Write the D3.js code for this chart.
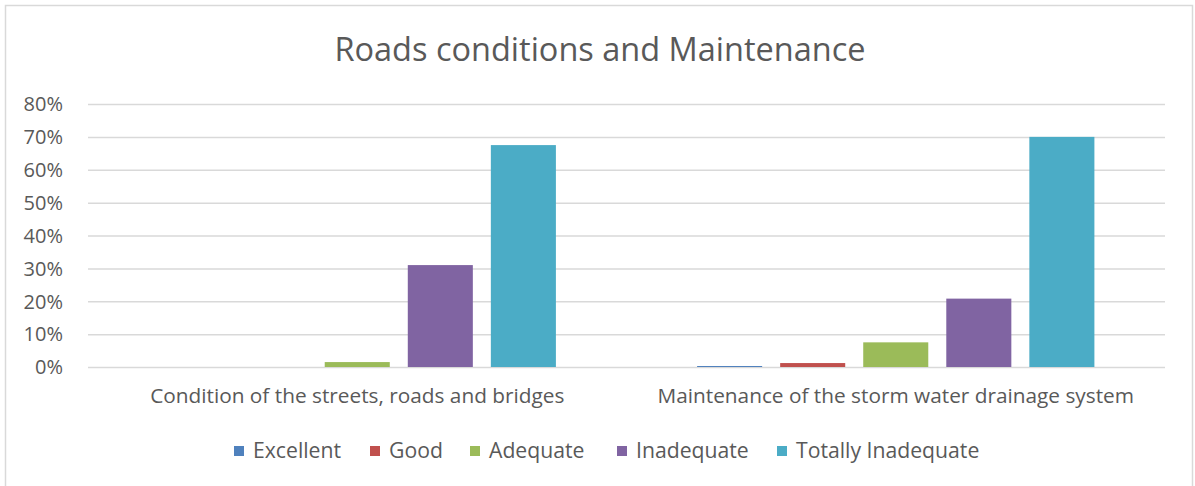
<!DOCTYPE html>
<html>
<head>
<meta charset="utf-8">
<script src="https://cdn.jsdelivr.net/npm/d3@7"></script>
<style>
  html, body { margin: 0; padding: 0; background: #fff; }
  svg { display: block; }
  text { font-family: "Open Sans", Lato, sans-serif; fill: #595959; }
</style>
</head>
<body>
<svg id="chart" width="1195" height="486"></svg>
<script>
const title = "Roads conditions and Maintenance";
const categories = ["Condition of the streets, roads and bridges", "Maintenance of the storm water drainage system"];
const seriesNames = ["Excellent", "Good", "Adequate", "Inadequate", "Totally Inadequate"];
const seriesColors = ["#4F81BD", "#C0504D", "#9BBB59", "#8064A2", "#4BACC6"];
const excellent = [0.0, 0.003];
const good = [0.0, 0.012];
const adequate = [0.015, 0.075];
const inadequate = [0.31, 0.208];
const totallyInadequate = [0.675, 0.70];
const yTicks = [0, 0.1, 0.2, 0.3, 0.4, 0.5, 0.6, 0.7, 0.8];

const seriesValues = [excellent, good, adequate, inadequate, totallyInadequate];

const svg = d3.select("#chart");

// outer border
svg.append("rect").attr("x", 5.5).attr("y", 5.5).attr("width", 1187).attr("height", 500)
  .attr("fill", "#fff").attr("stroke", "#d9d9d9").attr("stroke-width", 1.5);

const plot = { left: 88, right: 1165, top: 104, bottom: 367 };

const y = d3.scaleLinear().domain([0, 0.8]).range([plot.bottom, plot.top]);
const x0 = d3.scaleBand().domain(categories).range([plot.left, plot.right]).paddingInner(0).paddingOuter(0);
const x1 = d3.scaleBand().domain(seriesNames).range([0, x0.bandwidth()]).paddingInner(18/83).paddingOuter(0.85);

// title
svg.append("text").attr("x", 600).attr("y", 61).attr("text-anchor", "middle")
  .style("font-size", "32.5px").text(title);

// gridlines + y axis
const yAxis = d3.axisLeft(y).tickValues(yTicks).tickFormat(d3.format(".0%"))
  .tickSize(-(plot.right - plot.left)).tickPadding(25);
const gy = svg.append("g").attr("transform", `translate(${plot.left},0)`).call(yAxis);
gy.select(".domain").remove();
gy.selectAll(".tick line").attr("stroke", "#d9d9d9").attr("stroke-width", 1.5);
gy.selectAll(".tick text").style("font-size", "20px").attr("fill", "#595959").attr("dy", "0.34em");

// bars
const groups = svg.append("g").selectAll("g").data(categories).join("g")
  .attr("transform", d => `translate(${x0(d)},0)`);
groups.selectAll("rect").data((c, ci) => seriesNames.map((s, si) => ({ s, si, v: seriesValues[si][ci] })))
  .join("rect")
  .attr("x", d => x1(d.s))
  .attr("width", x1.bandwidth())
  .attr("y", d => y(d.v))
  .attr("height", d => y(0) - y(d.v))
  .attr("fill", d => seriesColors[d.si]);

// x axis labels
const xAxis = d3.axisBottom(x0).tickSize(0).tickPadding(21);
const gx = svg.append("g").attr("transform", `translate(0,${plot.bottom})`).call(xAxis);
gx.select(".domain").remove();
gx.selectAll(".tick text").style("font-size", "20.8px").attr("fill", "#595959");

// legend
const legendX = [234, 370, 470, 617, 777];
const lg = svg.append("g").selectAll("g").data(seriesNames).join("g")
  .attr("transform", (d, i) => `translate(${legendX[i]},446)`);
lg.append("rect").attr("width", 10).attr("height", 10).attr("fill", (d, i) => seriesColors[i]);
lg.append("text").attr("x", 19).attr("y", 5).attr("dy", "0.35em").style("font-size", "21.2px").text(d => d);
</script>
</body>
</html>
